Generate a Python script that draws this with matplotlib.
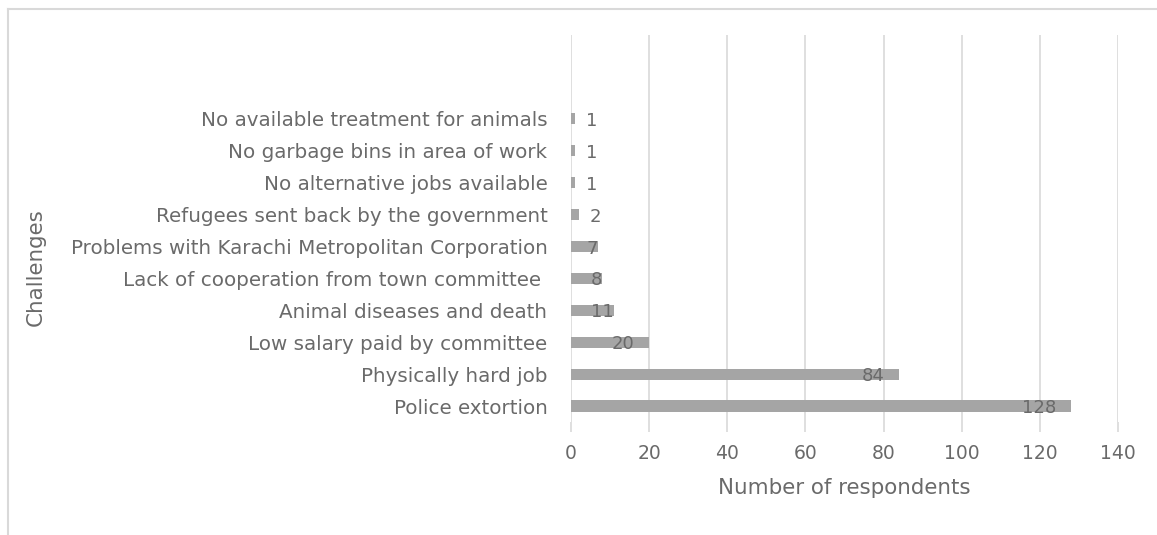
import matplotlib
matplotlib.use("Agg")
import matplotlib.pyplot as plt
from matplotlib.lines import Line2D
from matplotlib import transforms

challenges = ["Police extortion",
              "Physically hard job",
              "Low salary paid by committee",
              "Animal diseases and death",
              "Lack of cooperation from town committee ",
              "Problems with Karachi Metropolitan Corporation",
              "Refugees sent back by the government",
              "No alternative jobs available",
              "No garbage bins in area of work",
              "No available treatment for animals"]
respondents = [128, 84, 20, 11, 8, 7, 2, 1, 1, 1]
xticks = [0, 20, 40, 60, 80, 100, 120, 140]

text_color = "#6A6A6A"
grid_color = "#D9D9D9"
bar_color = "#A5A5A5"

plt.rcParams['font.family'] = ['DejaVu Sans']

fig = plt.figure(figsize=(11.57, 5.35), dpi=100)
W, H = 1157, 535
ax = fig.add_axes([571 / W, (H - 422) / H, 547 / W, 387 / H])

ypos = list(range(len(challenges)))
ax.barh(ypos, respondents, height=0.35, color=bar_color, zorder=3)

ax.set_xlim(0, 140)
ax.set_ylim(-0.5, 11.63)
ax.set_xticks(xticks)
ax.set_yticks(ypos)
ax.set_yticklabels(challenges)
ax.tick_params(axis="y", length=0, pad=17, labelcolor=text_color, labelsize=14.3)
ax.tick_params(axis="x", length=7, color=grid_color, width=1.2, pad=9,
               labelcolor=text_color, labelsize=13.5)
ax.grid(axis="x", color=grid_color, linewidth=1.2, zorder=0)
for s in ax.spines.values():
    s.set_visible(False)

# data labels
for y, v in zip(ypos, respondents):
    if v <= 2:
        off = transforms.offset_copy(ax.transData, fig=fig, x=11, y=-2, units="dots")
        ax.text(v, y, str(v), transform=off, ha="left", va="center",
                color=text_color, fontsize=13, zorder=4)
    else:
        shift = -15 if v >= 20 else 0
        off = transforms.offset_copy(ax.transData, fig=fig, x=shift, y=-2, units="dots")
        ax.text(v, y, str(v), transform=off, ha="right", va="center",
                color=text_color, fontsize=13, zorder=4)

ax.set_xlabel("Number of respondents", color=text_color, fontsize=15.4, labelpad=11)
ax.set_ylabel("Challenges", color=text_color, fontsize=15.4)
ax.yaxis.set_label_coords(46 / W, 0.5, transform=fig.transFigure)

# chart border (top and left visible)
fig.add_artist(Line2D([8 / W, 8 / W], [0, (H - 9) / H], color=grid_color, lw=1.5,
                      transform=fig.transFigure))
fig.add_artist(Line2D([8 / W, 1], [(H - 9) / H, (H - 9) / H], color=grid_color, lw=1.5,
                      transform=fig.transFigure))

fig.savefig("out.png", dpi=100)
